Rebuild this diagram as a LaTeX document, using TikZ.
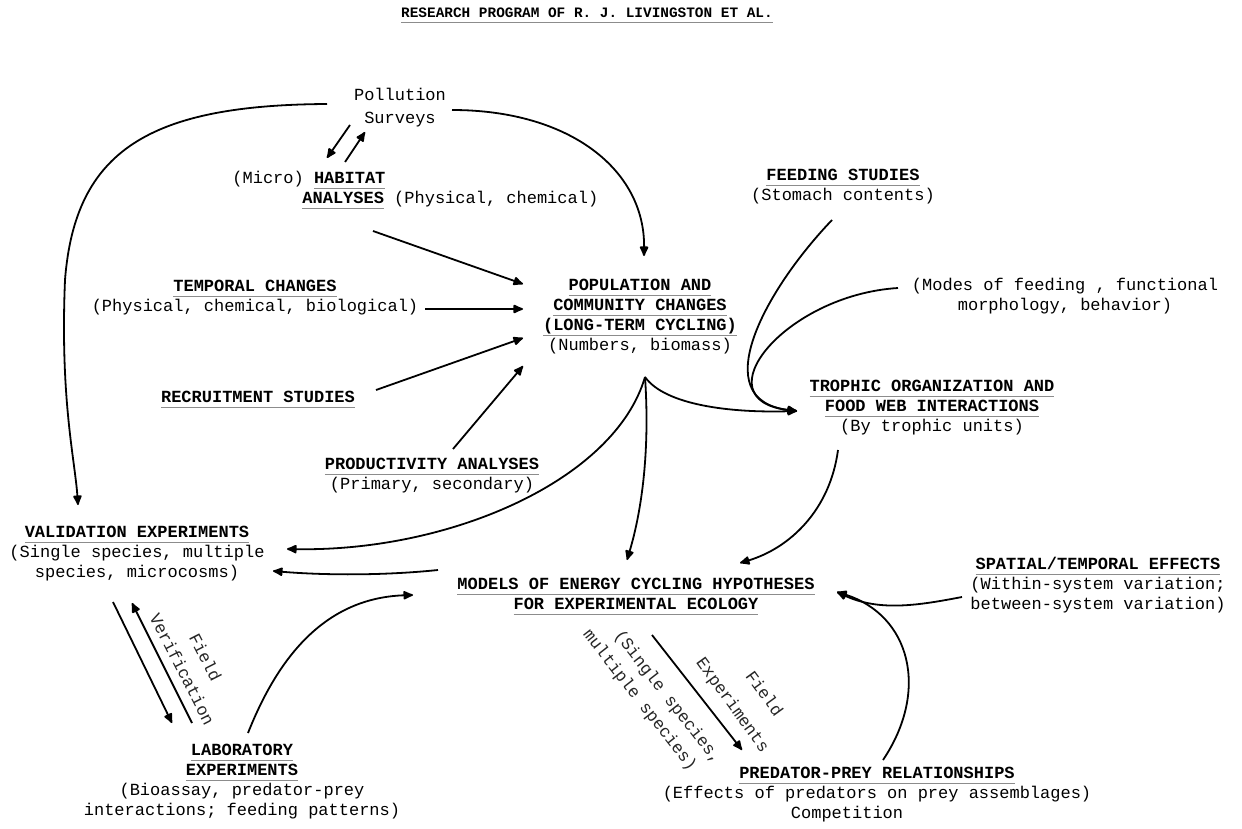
\documentclass[tikz,border=0pt]{standalone}
\usepackage{fontspec}
\setmonofont{Liberation Mono}
\usetikzlibrary{arrows.meta,calc}
\newcommand{\ulx}[1]{\setbox0\hbox{#1}\rlap{\textcolor{black!45}{\rule[-2.6pt]{\wd0}{0.35pt}}}\box0\relax}
\newcommand{\hd}[1]{\ulx{\bfseries #1}}
\begin{document}
\begin{tikzpicture}[x=0.5pt,y=-0.5pt,
  txt/.style={font=\ttfamily\fontsize{8.5}{10}\selectfont, align=center, inner sep=0pt, text=black},
  lbl/.style={font=\ttfamily\fontsize{8.5}{10}\selectfont, inner sep=0pt, text=black!85},
  ln/.style={line width=0.9pt, black},
  arr/.style={line width=0.9pt, black, -{Latex[length=6pt,width=5pt,round]}}]
\fill[white] (0,0) rectangle (1242,829);
\useasboundingbox (0,0) rectangle (1242,829);

% nodes
\node[txt,font=\ttfamily\bfseries\fontsize{7.2}{9}\selectfont] (title) at (587,15) {\ulx{RESEARCH PROGRAM OF R. J. LIVINGSTON ET AL.}};
\node[txt] (poll) at (400,108) {Pollution\\[1.5pt]Surveys};
\node[txt,align=left,anchor=west] (hab) at (232,190) {(Micro) \hd{HABITAT}\\\hspace*{35pt}\hd{ANALYSES} (Physical, chemical)};
\node[txt] (feed) at (843,187) {\hd{FEEDING STUDIES}\\(Stomach contents)};
\node[txt] (modes) at (1065,296) {(Modes of feeding , functional\\morphology, behavior)};
\node[txt] (temp) at (255,298) {\hd{TEMPORAL CHANGES}\\(Physical, chemical, biological)};
\node[txt] (pop) at (640,317) {\hd{POPULATION AND}\\\hd{COMMUNITY CHANGES}\\\hd{(LONG-TERM CYCLING)}\\(Numbers, biomass)};
\node[txt] (rec) at (258,399) {\hd{RECRUITMENT STUDIES}};
\node[txt] (troph) at (932,408) {\hd{TROPHIC ORGANIZATION AND}\\\hd{FOOD WEB INTERACTIONS}\\(By trophic units)};
\node[txt] (prod) at (432,476) {\hd{PRODUCTIVITY ANALYSES}\\(Primary, secondary)};
\node[txt] (val) at (137,554) {\hd{VALIDATION EXPERIMENTS}\\(Single species, multiple\\species, microcosms)};
\node[txt] (models) at (636,596) {\hd{MODELS OF ENERGY CYCLING HYPOTHESES}\\\hd{FOR EXPERIMENTAL ECOLOGY}};
\node[txt] (spat) at (1098,585) {\hd{SPATIAL/TEMPORAL EFFECTS}\\(Within-system variation;\\between-system variation)};
\node[txt] (lab) at (242,782) {\hd{LABORATORY}\\\hd{EXPERIMENTS}\\(Bioassay, predator-prey\\interactions; feeding patterns)};
\node[txt] (pred) at (877,795) {\hd{PREDATOR-PREY RELATIONSHIPS}\\(Effects of predators on prey assemblages)\\Competition\hspace*{30pt}};

% connector labels
\node[lbl,align=center,rotate=-63] (verlbl) at (194,663) {Field\\[3pt]Verification};
\node[lbl,align=left,rotate=-52] (spclbl) at (652,697) {\hspace*{10pt}(Single species,\\[2pt]multiple species)};
\node[lbl,align=left,rotate=-54] (fldlbl) at (745,696) {\hspace*{20pt}Field\\[6pt]Experiments};

% pollution surveys
\draw[arr] ($(poll)+(-50,17)$) -- ($(hab.west)+(95,-32)$);
\draw[arr] ($(hab.west)+(113,-28)$) -- ($(poll)+(-35,24)$);
\draw[arr] ($(poll)+(-73,-4)$) .. controls (150,105) and (75,150) .. (65,280)
   .. controls (60,400) and (75,460) .. ($(val)+(-59,-49)$);
\draw[arr] ($(poll)+(52,2)$) .. controls (570,110) and (645,170) .. ($(pop)+(4,-61)$);

% into population
\draw[arr] ($(hab.west)+(141,41)$) -- ($(pop)+(-117,-33)$);
\draw[arr] ($(temp)+(170,11)$) -- ($(pop)+(-117,-8)$);
\draw[arr] ($(rec)+(118,-9)$) -- ($(pop)+(-117,21)$);
\draw[arr] ($(prod)+(21,-27)$) -- ($(pop)+(-117,49)$);

% out of population
\draw[arr] ($(pop)+(5,60)$) .. controls (665,405) and (730,413) .. ($(troph)+(-135,3)$);
\draw[arr] ($(pop)+(5,60)$) .. controls (650,450) and (642,510) .. ($(models)+(-9,-36)$);
\draw[arr] ($(pop)+(5,60)$) .. controls (615,480) and (450,552) .. ($(val)+(150,-5)$);

% into trophic
\draw[arr] ($(feed)+(-11,33)$) .. controls (765,290) and (705,400) .. ($(troph)+(-135,3)$);
\draw[arr] ($(modes)+(-167,-8)$) .. controls (785,295) and (700,400) .. ($(troph)+(-135,3)$);

% models
\draw[arr] ($(troph)+(-94,42)$) .. controls (830,510) and (790,548) .. ($(models)+(104,-33)$);
\draw[arr] ($(models)+(-198,-26)$) .. controls (380,576) and (320,575) .. ($(val)+(136,17)$);
\draw[arr] ($(lab)+(6,-49)$) .. controls (275,665) and (320,598) .. ($(models)+(-223,-1)$);
\draw[arr] ($(models)+(16,39)$) -- ($(pred)+(-135,-45)$);
\draw[arr] ($(spat)+(-136,12)$) .. controls (920,605) and (880,612) .. ($(models)+(201,-4)$);
\draw[arr] ($(pred)+(6,-35)$) .. controls (930,690) and (910,615) .. ($(models)+(201,-4)$);

% validation <-> laboratory
\draw[arr] ($(val)+(-24,48)$) -- ($(lab)+(-70,-59)$);
\draw[arr] ($(lab)+(-50,-59)$) -- ($(val)+(-5,49)$);
\end{tikzpicture}
\end{document}
